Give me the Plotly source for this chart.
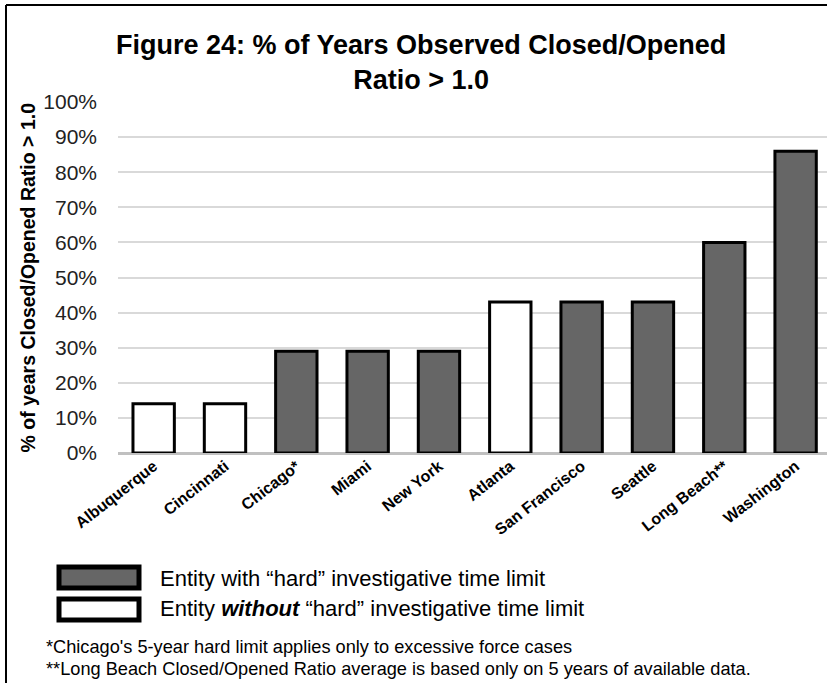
import plotly.graph_objects as go

# Entities and share of years with a closed/opened ratio above 1.0
cities = ["Albuquerque", "Cincinnati", "Chicago*", "Miami", "New York",
          "Atlanta", "San Francisco", "Seattle", "Long Beach**", "Washington"]
pct_years = [14, 14, 29, 29, 29, 43, 43, 43, 60, 86]
hard_limit = [False, False, True, True, True, False, True, True, True, True]

y_ticks = list(range(0, 101, 10))
y_tick_text = [f"{v}%" for v in y_ticks]

legend_labels = ["Entity with “hard” investigative time limit",
                 "Entity <b><i>without</i></b> “hard” investigative time limit"]
footnotes = ["*Chicago's 5-year hard limit applies only to excessive force cases",
             "**Long Beach Closed/Opened Ratio average is based only on 5 years of available data."]

W, H = 827, 683
L, R, T, B = 118, 0, 102, 230
PW, PH = W - L - R, H - T - B

DARK = "#666666"
FONT = "Liberation Sans, Arial, sans-serif"

fill = [DARK if h else "white" for h in hard_limit]

fig = go.Figure(go.Bar(
    x=cities, y=pct_years,
    marker=dict(color=fill, line=dict(color="black", width=3)),
    width=0.58,
    showlegend=False,
))


def px_x(px):
    return (px - L) / PW


def px_y(py):
    return (H - B - py) / PH


shapes = []
# outer frame (left and top edges visible)
shapes.append(dict(type="line", xref="paper", yref="paper",
                   x0=px_x(6), x1=px_x(W + 5), y0=px_y(5), y1=px_y(5),
                   line=dict(color="black", width=2)))
shapes.append(dict(type="line", xref="paper", yref="paper",
                   x0=px_x(6), x1=px_x(6), y0=px_y(5), y1=px_y(H + 5),
                   line=dict(color="black", width=2)))
# legend swatches
for (y0, y1), col in zip([(567, 588), (599, 620)], [DARK, "white"]):
    shapes.append(dict(type="rect", xref="paper", yref="paper",
                       x0=px_x(59), x1=px_x(139), y0=px_y(y1), y1=px_y(y0),
                       fillcolor=col, line=dict(color="black", width=5)))

annotations = []
for text, yc in zip(legend_labels, [578, 608]):
    annotations.append(dict(text=text, xref="paper", yref="paper",
                            x=px_x(158), y=px_y(yc), xanchor="left", yanchor="middle",
                            showarrow=False, font=dict(size=22, color="black", family=FONT)))
for text, yc in zip(footnotes, [647, 669]):
    annotations.append(dict(text=text, xref="paper", yref="paper",
                            x=px_x(44), y=px_y(yc), xanchor="left", yanchor="middle",
                            showarrow=False, font=dict(size=18.2, color="black", family=FONT)))
# y-axis title
annotations.append(dict(text="<b>% of years Closed/Opened Ratio > 1.0</b>",
                        xref="paper", yref="paper", x=px_x(27), y=0.5,
                        xanchor="center", yanchor="middle", textangle=-90,
                        showarrow=False, font=dict(size=19.5, color="black", family=FONT)))
# title
annotations.append(dict(text="<b>Figure 24: % of Years Observed Closed/Opened<br>Ratio > 1.0</b>",
                        xref="paper", yref="paper", x=px_x(421), y=px_y(63),
                        xanchor="center", yanchor="middle", showarrow=False,
                        font=dict(size=27, color="black", family=FONT)))

fig.update_layout(
    width=W, height=H,
    margin=dict(l=L, r=R, t=T, b=B, autoexpand=False),
    paper_bgcolor="white", plot_bgcolor="white",
    font=dict(family=FONT, color="black"),
    shapes=shapes, annotations=annotations,
    bargap=0.42,
)
fig.update_xaxes(
    type="category",
    range=[-0.5, 9.44], tickangle=-38,
    tickfont=dict(size=16, color="black", family=FONT),
    ticks="", showgrid=False, showline=False, zeroline=False,
    tickvals=cities,
    ticktext=[f"<b>{c}</b>" for c in cities],
)
fig.update_yaxes(
    range=[0, 100], tickvals=y_ticks, ticktext=y_tick_text,
    tickfont=dict(size=21, color="#222222"),
    showgrid=True, gridcolor="#d9d9d9", gridwidth=2,
    zeroline=True, zerolinecolor="#c0c0c0", zerolinewidth=3,
    showline=False, ticks="", ticklabelstandoff=20,
)

fig.write_html("out.html")
